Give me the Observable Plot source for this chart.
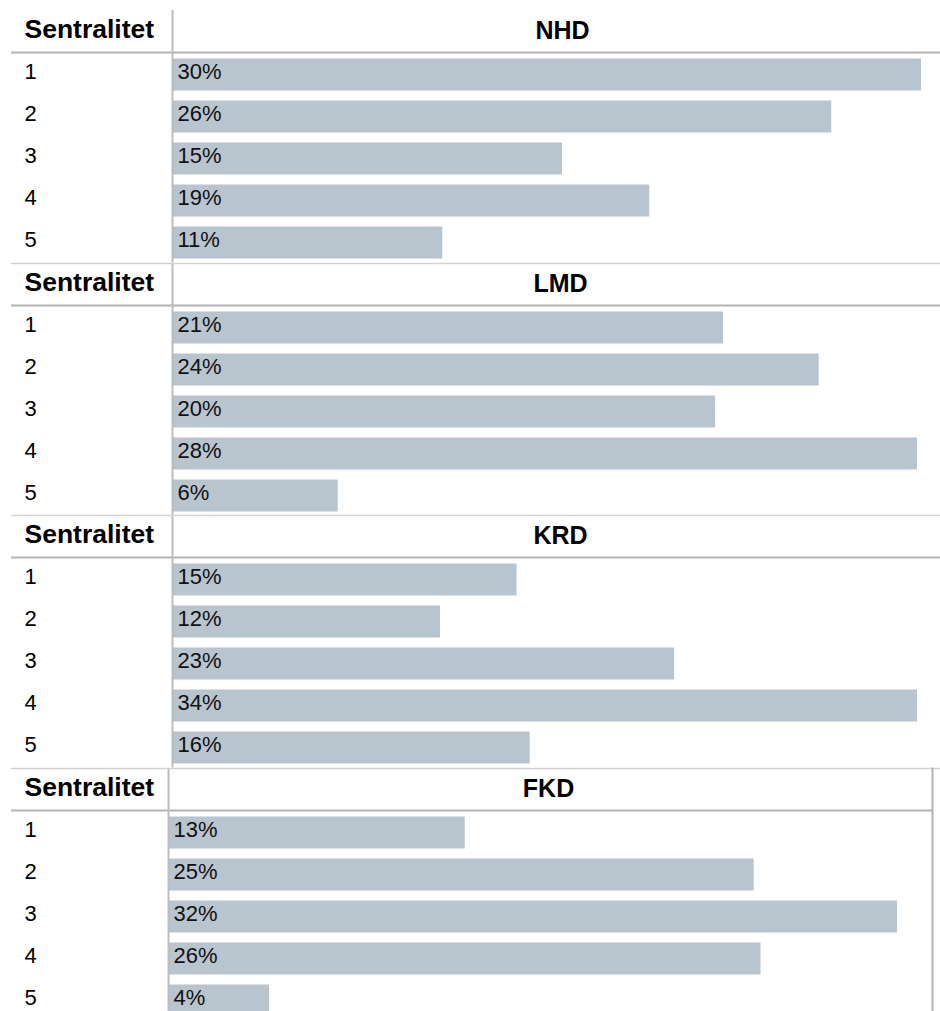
<!DOCTYPE html>
<html><head><meta charset="utf-8">
<script src="https://cdn.jsdelivr.net/npm/d3@7"></script>
<script src="https://cdn.jsdelivr.net/npm/@observablehq/plot@0.6"></script>
<style>
body{margin:0;background:#fff;overflow:hidden;}
#chart{padding-top:10px;}
#chart svg{display:block;overflow:visible;}
</style></head><body><div id="chart"></div>
<script>
const headerLabel = "Sentralitet";
const rowLabels = ["1", "2", "3", "4", "5"];
const panelTitles = ["NHD", "LMD", "KRD", "FKD"];

const nhdLabels = ["30%", "26%", "15%", "19%", "11%"];
const nhdValues = [30, 26.4, 15.6, 19.1, 10.8];
const lmdLabels = ["21%", "24%", "20%", "28%", "6%"];
const lmdValues = [20.7, 24.3, 20.4, 28, 6.2];
const krdLabels = ["15%", "12%", "23%", "34%", "16%"];
const krdValues = [15.7, 12.2, 22.9, 34, 16.3];
const fkdLabels = ["13%", "25%", "32%", "26%", "4%"];
const fkdValues = [13.0, 25.7, 32, 26.0, 4.4];

const panelValues = [nhdValues, lmdValues, krdValues, fkdValues];
const panelLabels = [nhdLabels, lmdLabels, krdLabels, fkdLabels];
const panelMax = [30, 28, 34, 32];

// layout (pixels)
const H = 252.5;
const step = H / 6;
const layouts = [
  {range: [173, 921], marginRight: 0, topLine: false, border: false},
  {range: [173, 917], marginRight: 0, topLine: true, border: false},
  {range: [173, 917], marginRight: 0, topLine: true, border: false},
  {range: [169, 897], marginRight: 8, topLine: true, border: true}
];

const chart = document.getElementById("chart");
panelTitles.forEach((title, p) => {
  const L = layouts[p];
  const rows = rowLabels.map((r, i) => ({row: r, value: panelValues[p][i], label: panelLabels[p][i]}));
  const marks = [
    Plot.barX(rows, {x: "value", y: "row", fill: "#b8c4ce", insetTop: 6.5, insetBottom: 3.5}),
    Plot.ruleY(["1"], {dy: -step / 2, stroke: "#b3b3b3", strokeWidth: 2}),
    Plot.ruleX([0], {dx: -1, stroke: "#bcbcbc", strokeWidth: 2}),
    Plot.axisY({tickSize: 0, tickPadding: 0, textAnchor: "start", dx: 13, dy: -1.5, fontSize: 22, fill: "#000", label: null}),
    Plot.text([title], {y: () => headerLabel, x: () => panelMax[p] / 2, dx: 15, dy: -1, fontWeight: "bold", fontSize: 25, fill: "#000"}),
    Plot.text(rows, {x: () => 0, y: "row", text: "label", textAnchor: "start", dx: 4, dy: -1.5, fontSize: 22, fill: "#111"})
  ];
  if (L.topLine) marks.push(Plot.ruleY([headerLabel], {dy: -step / 2, stroke: "#d2d2d2", strokeWidth: 1.5, insetRight: -L.marginRight}));
  if (L.border) marks.push(Plot.frame({anchor: "right", stroke: "#b3b3b3", strokeWidth: 2}));
  const svg = Plot.plot({
    width: 940,
    height: H,
    marginTop: 0,
    marginBottom: 0,
    marginLeft: 11,
    marginRight: L.marginRight,
    style: {fontFamily: "'Liberation Sans', Arial, sans-serif", fontSize: "22px", color: "#000", overflow: "visible", background: "transparent"},
    x: {domain: [0, panelMax[p]], range: L.range, axis: null},
    y: {domain: [headerLabel, ...rowLabels], padding: 0},
    marks
  });
  chart.appendChild(svg);
});
// bold header tick label
chart.querySelectorAll('g[aria-label="y-axis tick label"] text').forEach(t => {
  if (t.textContent === headerLabel) { t.setAttribute("font-weight", "bold"); t.setAttribute("font-size", "26.5"); }
});
</script></body></html>
